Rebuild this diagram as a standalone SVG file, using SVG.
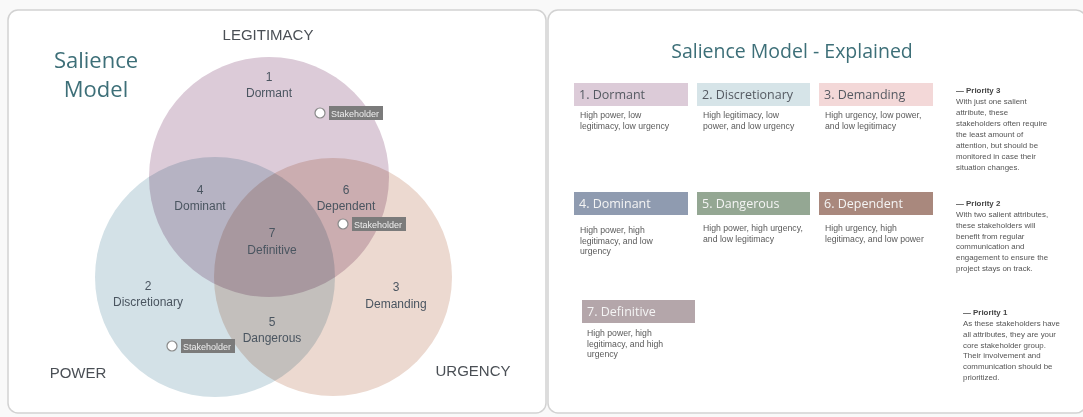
<svg xmlns="http://www.w3.org/2000/svg" width="1083" height="417" viewBox="0 0 1083 417">
<style>
.panel{fill:#ffffff;stroke:#d2d2d2;stroke-width:1.5}
.circ{mix-blend-mode:multiply}
.vt{font-family:"Liberation Sans",Arial,sans-serif;font-size:12px;fill:#4a5560;text-anchor:middle}
.axis{font-family:"Liberation Sans",Arial,sans-serif;font-size:15px;fill:#4a4f55;text-anchor:middle}
.title{font-family:"Open Sans","Liberation Sans",sans-serif;fill:#3d6f78}
.skbox{fill:#7b7b7b}
.skdot{fill:#ffffff;stroke:#8a8a8a;stroke-width:1.2}
.sktxt{font-family:"Liberation Sans",Arial,sans-serif;font-size:9px;fill:#eeeeee}
.bh{font-family:"Open Sans","Liberation Sans",sans-serif;font-size:12.5px}
.desc{font-family:"Liberation Sans",Arial,sans-serif;font-size:8.7px;fill:#5a5a5a}
.pr{font-family:"Liberation Sans",Arial,sans-serif;font-size:7.9px;fill:#555555}
.prh{font-weight:bold;fill:#444444}
</style>
<rect x="0" y="0" width="1083" height="417" fill="#f9f9f9"/>
<rect class="panel" x="8" y="10" width="538" height="403" rx="10"/>
<rect class="panel" x="548" y="10" width="538" height="403" rx="10"/>

<g id="venn">
  <g id="legitimacy"><circle class="circ" cx="269" cy="177" r="120" fill="#dccbd8"/></g>
  <g id="power"><circle class="circ" cx="215" cy="277" r="120" fill="#d3e1e7"/></g>
  <g id="urgency"><circle class="circ" cx="333" cy="277" r="119" fill="#ecd9d0"/></g>
</g>

<g id="connectors"></g>

<g id="title-left">
  <text class="title" x="96" y="68" font-size="22" text-anchor="middle">Salience</text>
  <text class="title" x="96" y="97" font-size="22" text-anchor="middle">Model</text>
</g>
<g id="axis-labels">
  <text class="axis" x="268" y="40">LEGITIMACY</text>
  <text class="axis" x="78" y="378">POWER</text>
  <text class="axis" x="473" y="376">URGENCY</text>
</g>
<g id="region1"><text class="vt" x="269" y="81">1</text><text class="vt" x="269" y="97">Dormant</text></g>
<g id="region4"><text class="vt" x="200" y="194">4</text><text class="vt" x="200" y="210">Dominant</text></g>
<g id="region6"><text class="vt" x="346" y="194">6</text><text class="vt" x="346" y="210">Dependent</text></g>
<g id="region7"><text class="vt" x="272" y="237">7</text><text class="vt" x="272" y="254">Definitive</text></g>
<g id="region2"><text class="vt" x="148" y="290">2</text><text class="vt" x="148" y="306">Discretionary</text></g>
<g id="region3"><text class="vt" x="396" y="291">3</text><text class="vt" x="396" y="308">Demanding</text></g>
<g id="region5"><text class="vt" x="272" y="326">5</text><text class="vt" x="272" y="342">Dangerous</text></g>

<g id="stakeholder1">
  <rect class="skbox" x="329" y="106" width="54" height="14"/>
  <circle class="skdot" cx="320" cy="113" r="5"/>
  <text class="sktxt" x="331" y="116.5">Stakeholder</text>
</g>
<g id="stakeholder2">
  <rect class="skbox" x="352" y="217" width="54" height="14"/>
  <circle class="skdot" cx="343" cy="224" r="5"/>
  <text class="sktxt" x="354" y="227.5">Stakeholder</text>
</g>
<g id="stakeholder3">
  <rect class="skbox" x="181" y="339" width="54" height="14"/>
  <circle class="skdot" cx="172" cy="346" r="5"/>
  <text class="sktxt" x="183" y="349.5">Stakeholder</text>
</g>

<g id="title-right">
  <text class="title" x="792" y="58" font-size="19.5" text-anchor="middle">Salience Model - Explained</text>
</g>

<g id="card1">
  <rect x="574" y="83" width="114" height="23" fill="#dccbd8"/>
  <text class="bh" x="579" y="99" fill="#555a62">1. Dormant</text>
  <text class="desc" x="580" y="118">High power, low</text>
  <text class="desc" x="580" y="129">legitimacy, low urgency</text>
</g>
<g id="card2">
  <rect x="697" y="83" width="113" height="23" fill="#d6e4e8"/>
  <text class="bh" x="702" y="99" fill="#555a62">2. Discretionary</text>
  <text class="desc" x="703" y="118">High legitimacy, low</text>
  <text class="desc" x="703" y="129">power, and low urgency</text>
</g>
<g id="card3">
  <rect x="819" y="83" width="114" height="23" fill="#f3d8d8"/>
  <text class="bh" x="824" y="99" fill="#555a62">3. Demanding</text>
  <text class="desc" x="825" y="118">High urgency, low power,</text>
  <text class="desc" x="825" y="129">and low legitimacy</text>
</g>
<g id="priority3">
  <text class="pr" x="956" y="93"><tspan class="prh">— Priority 3</tspan></text>
  <text class="pr" x="956" y="104">With just one salient</text>
  <text class="pr" x="956" y="115">attribute, these</text>
  <text class="pr" x="956" y="126">stakeholders often require</text>
  <text class="pr" x="956" y="137">the least amount of</text>
  <text class="pr" x="956" y="148">attention, but should be</text>
  <text class="pr" x="956" y="159">monitored in case their</text>
  <text class="pr" x="956" y="170">situation changes.</text>
</g>

<g id="card4">
  <rect x="574" y="192" width="114" height="23" fill="#8f9bb0"/>
  <text class="bh" x="579" y="208" fill="#f4f4f4">4. Dominant</text>
  <text class="desc" x="580" y="233">High power, high</text>
  <text class="desc" x="580" y="244">legitimacy, and low</text>
  <text class="desc" x="580" y="254">urgency</text>
</g>
<g id="card5">
  <rect x="697" y="192" width="113" height="23" fill="#94a793"/>
  <text class="bh" x="702" y="208" fill="#f4f4f4">5. Dangerous</text>
  <text class="desc" x="703" y="231">High power, high urgency,</text>
  <text class="desc" x="703" y="242">and low legitimacy</text>
</g>
<g id="card6">
  <rect x="819" y="192" width="114" height="23" fill="#a9887d"/>
  <text class="bh" x="824" y="208" fill="#f4f4f4">6. Dependent</text>
  <text class="desc" x="825" y="231">High urgency, high</text>
  <text class="desc" x="825" y="242">legitimacy, and low power</text>
</g>
<g id="priority2">
  <text class="pr" x="956" y="206"><tspan class="prh">— Priority 2</tspan></text>
  <text class="pr" x="956" y="217">With two salient attributes,</text>
  <text class="pr" x="956" y="228">these stakeholders will</text>
  <text class="pr" x="956" y="239">benefit from regular</text>
  <text class="pr" x="956" y="249">communication and</text>
  <text class="pr" x="956" y="260">engagement to ensure the</text>
  <text class="pr" x="956" y="271">project stays on track.</text>
</g>

<g id="card7">
  <rect x="582" y="300" width="113" height="23" fill="#b4a6aa"/>
  <text class="bh" x="587" y="316" fill="#f4f4f4">7. Definitive</text>
  <text class="desc" x="587" y="336">High power, high</text>
  <text class="desc" x="587" y="347">legitimacy, and high</text>
  <text class="desc" x="587" y="357">urgency</text>
</g>
<g id="priority1">
  <text class="pr" x="963" y="315"><tspan class="prh">— Priority 1</tspan></text>
  <text class="pr" x="963" y="326">As these stakeholders have</text>
  <text class="pr" x="963" y="337">all attributes, they are your</text>
  <text class="pr" x="963" y="348">core stakeholder group.</text>
  <text class="pr" x="963" y="358">Their involvement and</text>
  <text class="pr" x="963" y="369">communication should be</text>
  <text class="pr" x="963" y="380">prioritized.</text>
</g>
</svg>
